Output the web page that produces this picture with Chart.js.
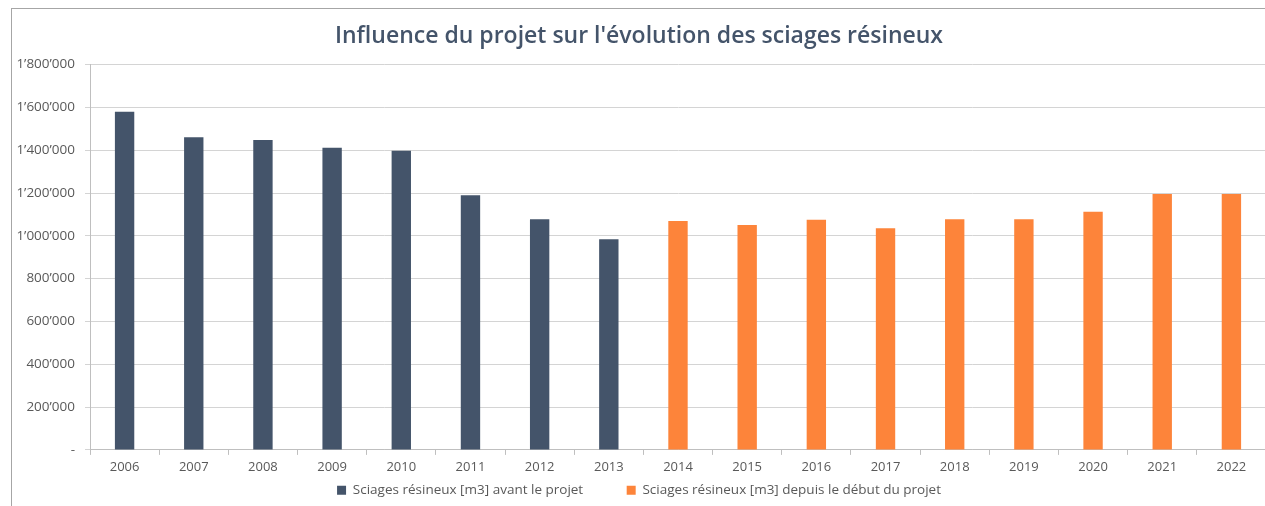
<!DOCTYPE html>
<html>
<head>
<meta charset="utf-8">
<script src="https://cdn.jsdelivr.net/npm/chart.js@4"></script>
<style>
  body { margin: 0; background: #fff; }
  #wrap {
    position: absolute; left: 11px; top: 8px; width: 1254px; height: 498px;
    border-left: 1px solid #a6a6a6; border-top: 1px solid #a6a6a6;
  }
</style>
</head>
<body>
<div id="wrap"><canvas id="myChart"></canvas></div>
<script>
// Sciages résineux [m3] par année
var years = ['2006', '2007', '2008', '2009', '2010', '2011', '2012', '2013', '2014',
             '2015', '2016', '2017', '2018', '2019', '2020', '2021', '2022'];
var avantProjet = [1580000, 1461000, 1448000, 1412000, 1397000, 1190000, 1078000, 984000,
                   null, null, null, null, null, null, null, null, null];
var depuisProjet = [null, null, null, null, null, null, null, null,
                    1069000, 1051000, 1075000, 1036000, 1078000, 1077000, 1112000, 1195000, 1195000];

function swissFormat(v) {
    if (v === 0) return '-';
    return String(v).replace(/\B(?=(\d{3})+(?!\d))/g, '\u2019');
}

var ctx = document.getElementById('myChart').getContext('2d');
var myChart = new Chart(ctx, {
    type: 'bar',
    data: {
        labels: years,
        datasets: [{
            label: 'Sciages résineux [m3] avant le projet',
            data: avantProjet,
            backgroundColor: '#44546A'
        }, {
            label: 'Sciages résineux [m3] depuis le début du projet',
            data: depuisProjet,
            backgroundColor: '#FD843A'
        }]
    },
    options: {
        responsive: true,
        maintainAspectRatio: false,
        animation: false,
        skipNull: true,
        categoryPercentage: 1,
        barPercentage: 0.28,
        plugins: {
            title: {
                display: true,
                text: "Influence du projet sur l'évolution des sciages résineux",
                color: '#44546A',
                font: { family: 'Open Sans', size: 23, weight: '600' },
                padding: { top: 14, bottom: 14 }
            },
            legend: {
                position: 'bottom',
                labels: {
                    color: '#595959',
                    font: { family: 'Open Sans', size: 13.5 },
                    boxWidth: 9,
                    boxHeight: 9,
                    padding: 3,
                    // wider gap between the two entries, as in the original
                    generateLabels: function (chart) {
                        var items = Chart.defaults.plugins.legend.labels.generateLabels(chart);
                        items.forEach(function (it, i) {
                            if (i < items.length - 1) it.text = it.text + '\u2003\u2003\u2003';
                        });
                        return items;
                    }
                }
            },
            tooltip: { enabled: false }
        },
        scales: {
            x: {
                grid: {
                    offset: true,
                    drawOnChartArea: false,
                    tickLength: 5,
                    color: '#bfbfbf'
                },
                border: { color: '#bfbfbf' },
                ticks: {
                    color: '#595959',
                    font: { family: 'Open Sans', size: 13 },
                    padding: 5
                }
            },
            y: {
                min: 0,
                max: 1800000,
                afterFit: function (scale) { scale.width = 78; },
                grid: {
                    color: '#d4d4d4',
                    tickLength: 5
                },
                border: { color: '#bfbfbf' },
                ticks: {
                    stepSize: 200000,
                    color: '#595959',
                    font: { family: 'Open Sans', size: 13.5 },
                    padding: 10,
                    callback: function (v) { return swissFormat(v); }
                }
            }
        }
    }
});
</script>
</body>
</html>
